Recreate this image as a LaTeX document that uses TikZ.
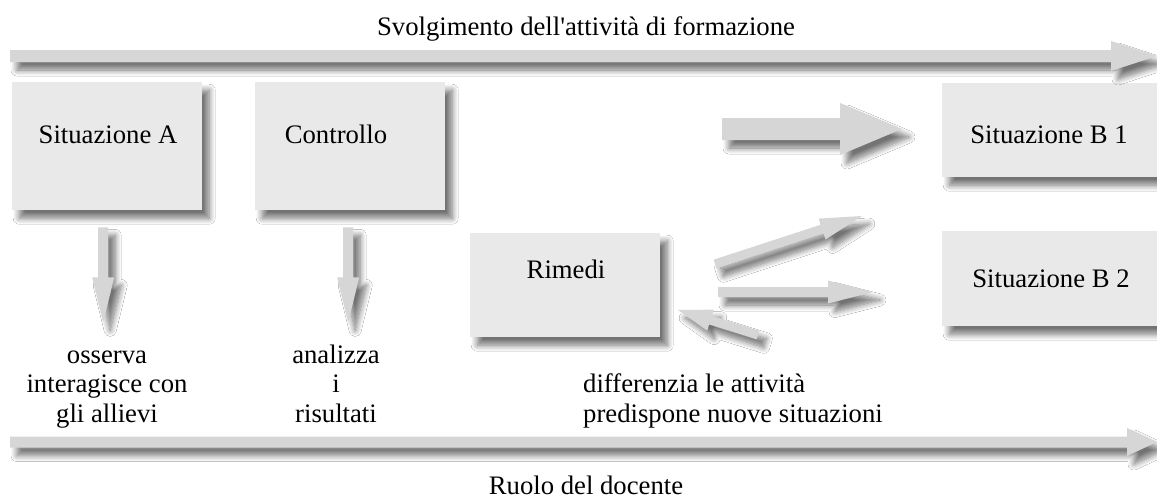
\documentclass[tikz,border=0pt]{standalone}
\usepackage{fontspec}
\newfontfamily\serifplain{Liberation Serif}
\usetikzlibrary{calc,shadows.blur}
\definecolor{boxgray}{HTML}{E9E9E9}
\definecolor{arrgray}{HTML}{D6D6D6}
\tikzset{
  shad/.style={blur shadow={shadow xshift=7pt,shadow yshift=-8pt,shadow blur radius=6pt,shadow blur steps=10,shadow opacity=55}},
  boxstyle/.style={rectangle,fill=boxgray,inner sep=0pt,anchor=north west,shad},
  arrowfill/.style={fill=arrgray,shad},
  lbl/.style={font=\serifplain\fontsize{26.7}{29.5}\selectfont,inner sep=0pt,anchor=base,text=black},
}
\newcommand{\fatarrow}[6]{%
  \coordinate (#6h) at ($(#2)!#5!(#1)$);
  \fill[arrowfill] ($(#1)!#3!90:(#2)$) -- ($(#6h)!#3!90:(#2)$) -- ($(#6h)!#4!90:(#2)$) -- (#2)
    -- ($(#6h)!#4!-90:(#2)$) -- ($(#6h)!#3!-90:(#2)$) -- ($(#1)!#3!-90:(#2)$) -- cycle;
}
\begin{document}
\begin{tikzpicture}[x=1pt,y=-1pt]
\useasboundingbox[fill=white] (0,0) rectangle (1157,498);
% boxes
\node[boxstyle,minimum width=190pt,minimum height=128pt] (boxA) at (12,82) {};
\node[boxstyle,minimum width=190pt,minimum height=128pt] (boxC) at (255,82) {};
\node[boxstyle,minimum width=190pt,minimum height=104pt] (boxR) at (470,233) {};
\node[boxstyle,minimum width=240pt,minimum height=94pt] (boxB1) at (942,83) {};
\node[boxstyle,minimum width=240pt,minimum height=95pt] (boxB2) at (942,231) {};
% box texts
\node[lbl] (tA) at (108,143) {Situazione A};
\node[lbl] (tC) at (336,143) {Controllo};
\node[lbl] (tR) at (566,278) {Rimedi};
\node[lbl] (tB1) at (1049,143) {Situazione B 1};
\node[lbl] (tB2) at (1051,287) {Situazione B 2};
% arrow end points
\coordinate (topT) at (10,56);  \coordinate (topH) at (1157,56);
\coordinate (botT) at (10,442); \coordinate (botH) at (1157,442);
\coordinate (aT) at ($(boxA.south)+(-4,17)$); \coordinate (aH) at ($(boxA.south)+(-4,112)$);
\coordinate (cT) at ($(boxC.south)+(-2,17)$); \coordinate (cH) at ($(boxC.south)+(-2,112)$);
\coordinate (bigT) at (722,129); \coordinate (bigH) at (902,129);
\coordinate (diT) at (715,264); \coordinate (diH) at (862,216);
\coordinate (hoT) at (718,292); \coordinate (hoH) at (873,292);
\coordinate (baT) at (758,335); \coordinate (baH) at (678,310);
% arrows
\fatarrow{topT}{topH}{6pt}{15pt}{46pt}{ar1}
\fatarrow{botT}{botH}{5.5pt}{14pt}{30pt}{ar2}
\fatarrow{aT}{aH}{5pt}{11pt}{45pt}{ar3}
\fatarrow{cT}{cH}{5pt}{11pt}{45pt}{ar4}
\fatarrow{bigT}{bigH}{11pt}{26pt}{62pt}{ar5}
\fatarrow{diT}{diH}{4.5pt}{11pt}{42pt}{ar6}
\fatarrow{hoT}{hoH}{5pt}{11.5pt}{45pt}{ar7}
\fatarrow{baT}{baH}{4.5pt}{11pt}{34pt}{ar8}
% texts
\node[lbl] (title) at (586,35) {Svolgimento dell'attività di formazione};
\node[lbl] (ruolo) at (586,494) {Ruolo del docente};
\node[lbl,align=center] (oss) at (107,422) {osserva\\interagisce con\\gli allievi};
\node[lbl,align=center] (ana) at (336,422) {analizza\\i\\risultati};
\node[lbl,align=left,anchor=base west] (diff) at (583,422) {differenzia le attività\\predispone nuove situazioni};
\end{tikzpicture}
\end{document}
